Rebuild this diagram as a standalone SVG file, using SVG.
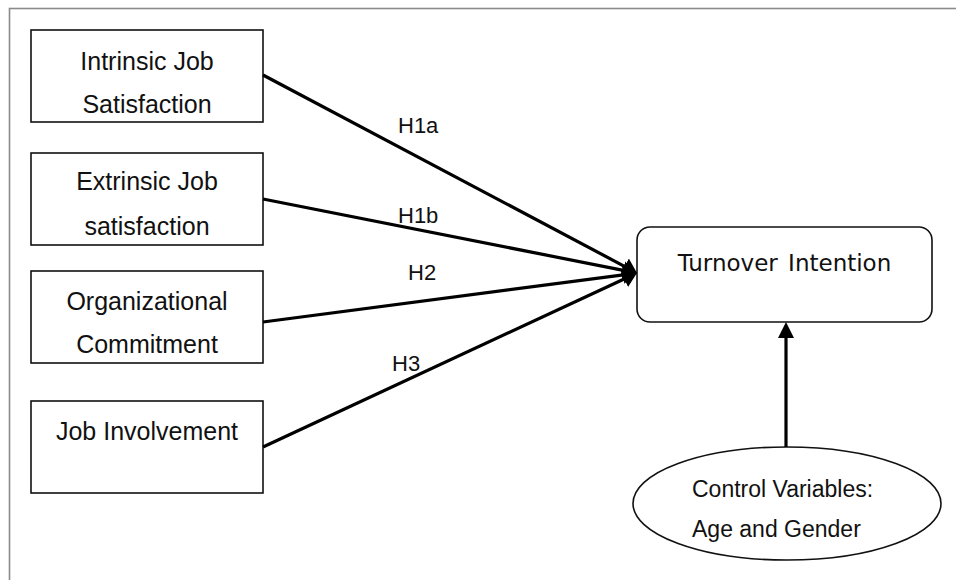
<svg xmlns="http://www.w3.org/2000/svg" width="956" height="580" viewBox="0 0 956 580">
<defs>
<style>
.box{fill:#fff;stroke:#111;stroke-width:1.6}
.lbl{font-family:"Liberation Sans",Arial,sans-serif;font-size:25px;fill:#111;text-anchor:middle}
.h{font-family:"Liberation Sans",Arial,sans-serif;font-size:22px;fill:#111}
.conn{stroke:#000;stroke-width:3.2;fill:none}
</style>
<marker id="ah" markerUnits="userSpaceOnUse" markerWidth="16" markerHeight="20" viewBox="0 -10 16 20" refX="4" refY="0" orient="auto">
<path d="M0,-9 L14,0 L0,9 z" fill="#000"/>
</marker>
<marker id="ahv" markerUnits="userSpaceOnUse" markerWidth="18" markerHeight="20" viewBox="0 -10 18 20" refX="2" refY="0" orient="auto">
<path d="M0,-8 L16,0 L0,8 z" fill="#000"/>
</marker>
</defs>
<rect width="956" height="580" fill="#fff"/>
<rect x="9.5" y="8.5" width="960" height="600" fill="none" stroke="#8a8a8a" stroke-width="1.6"/>

<g id="n-intrinsic">
<rect class="box" x="31" y="30" width="232" height="92"/>
<text class="lbl" x="147" y="70">Intrinsic Job</text>
<text class="lbl" x="147" y="113">Satisfaction</text>
</g>
<g id="n-extrinsic">
<rect class="box" x="31" y="153" width="232" height="92"/>
<text class="lbl" x="147" y="190">Extrinsic Job</text>
<text class="lbl" x="147" y="235">satisfaction</text>
</g>
<g id="n-commitment">
<rect class="box" x="31" y="271" width="232" height="92"/>
<text class="lbl" x="147" y="310">Organizational</text>
<text class="lbl" x="147" y="353">Commitment</text>
</g>
<g id="n-involvement">
<rect class="box" x="31" y="401" width="232" height="92"/>
<text class="lbl" x="147" y="440">Job Involvement</text>
</g>
<g id="n-turnover">
<rect class="box" x="637" y="227" width="295" height="95" rx="13" ry="13"/>
<text x="784.5" y="271" font-family="'DejaVu Sans',Verdana,sans-serif" font-size="23" word-spacing="3" fill="#111" text-anchor="middle">Turnover Intention</text>
</g>
<g id="n-control">
<ellipse cx="787" cy="503.5" rx="154" ry="56.5" fill="#fff" stroke="#111" stroke-width="1.6"/>
<text x="692" y="497" font-family="'Liberation Sans',Arial,sans-serif" font-size="23" fill="#111">Control Variables:</text>
<text x="692" y="537" font-family="'Liberation Sans',Arial,sans-serif" font-size="23" fill="#111">Age and Gender</text>
</g>

<g id="connectors">
<line class="conn" x1="263" y1="75" x2="628.2" y2="268.3" marker-end="url(#ah)"/>
<line class="conn" x1="263" y1="199" x2="627.2" y2="271.1" marker-end="url(#ah)"/>
<line class="conn" x1="263" y1="322" x2="627.1" y2="274.3" marker-end="url(#ah)"/>
<line class="conn" x1="263" y1="447" x2="627.9" y2="277.2" marker-end="url(#ah)"/>
<line class="conn" x1="786" y1="447" x2="786" y2="336" marker-end="url(#ahv)"/>
<text class="h" x="398" y="133">H1a</text>
<text class="h" x="398" y="223">H1b</text>
<text class="h" x="408" y="280">H2</text>
<text class="h" x="392" y="371">H3</text>
</g>
</svg>
